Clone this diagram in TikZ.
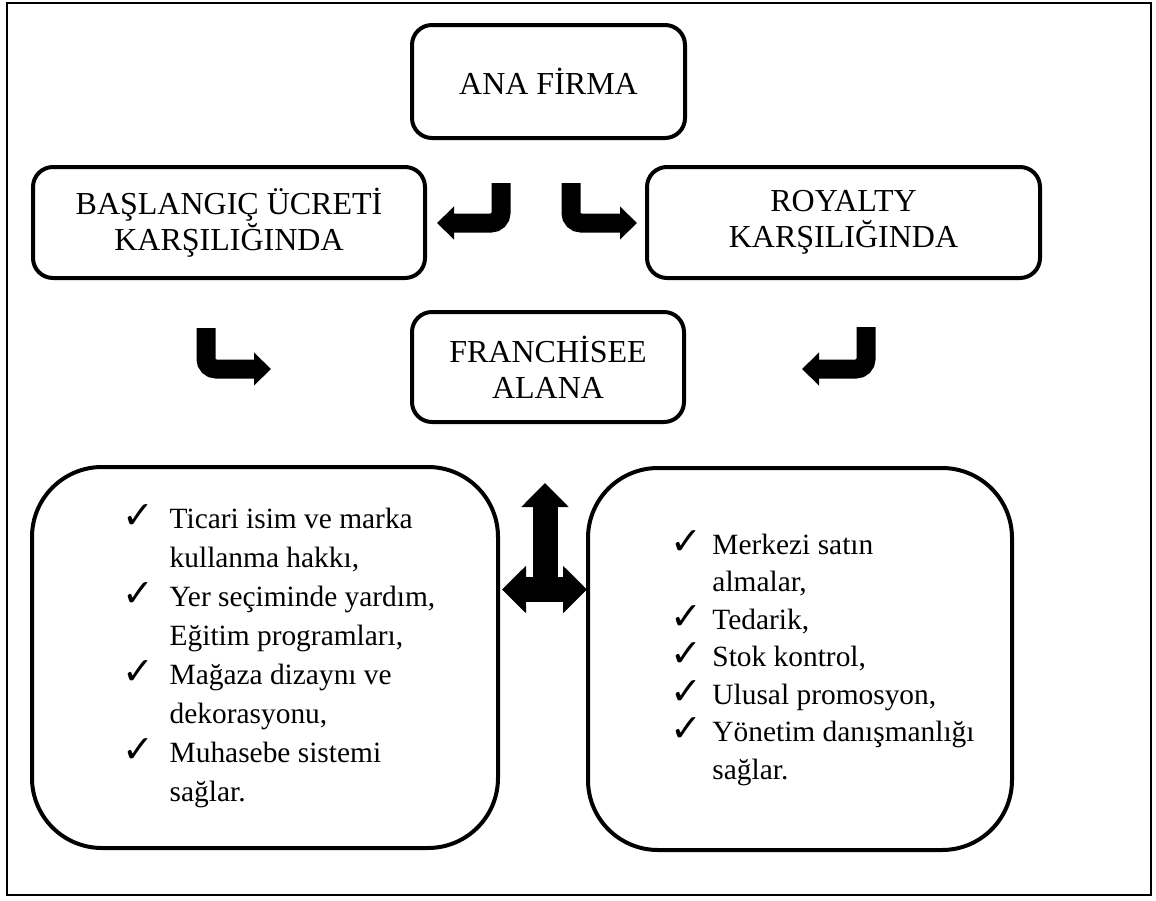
\documentclass[tikz,border=0pt]{standalone}
\usepackage{fontspec}
\setmainfont{Liberation Serif}
\newfontfamily\symfont{DejaVu Sans}
\usetikzlibrary{arrows.meta}
\newcommand{\chkglyph}{\raisebox{0pt}[0pt][0pt]{\symfont\fontsize{19}{19}\selectfont ✓}}
\newcommand{\chkA}{\makebox[23.5pt][l]{\chkglyph}}
\newcommand{\indA}{\hspace*{23.5pt}}
\newcommand{\chkB}{\makebox[21pt][l]{\chkglyph}}
\newcommand{\indB}{\hspace*{21pt}}
\tikzset{
  box/.style={draw, line width=2pt, rounded corners=10pt, align=center,
    font=\fontsize{16}{18}\selectfont, inner sep=0pt},
  bigbox/.style={draw, line width=2pt, rounded corners=35pt, inner sep=0pt,
    font=\fontsize{14.7}{19.5}\selectfont},
  bendarrow/.style={line width=9.5pt, rounded corners=5pt,
    -{Triangle[length=8.5pt,width=16pt]}},
  crossarrow/.style={line width=12.5pt, >={Triangle[length=12pt,width=23pt]}},
  frame/.style={line width=1pt}
}
\begin{document}
\begin{tikzpicture}[x=0.5pt,y=-0.5pt]
\useasboundingbox (0,0) rectangle (1156,900);
\draw[frame] (7,2.5) rectangle (1151,895);

\node[box, minimum width=136.5pt, minimum height=56.5pt] (ana) at (548.5,81.5) {ANA FİRMA};
\node[box, minimum width=196pt, minimum height=55.5pt] (bas) at (229,222.5) {BAŞLANGIÇ ÜCRETİ\\KARŞILIĞINDA};
\node[box, minimum width=196.5pt, minimum height=55.5pt] (roy) at (843.5,222.5) {ROYALTY\\KARŞILIĞINDA};
\node[box, minimum width=136pt, minimum height=55pt] (fra) at (548,367) {FRANCHİSEE\\ALANA};

\node[bigbox, minimum width=233pt, minimum height=190.5pt] (left) at (265,657.5) {\hspace*{14pt}\begin{tabular}{@{}l@{}}
\chkA Ticari isim ve marka\\
\indA kullanma hakkı,\\
\chkA Yer seçiminde yardım,\\
\indA Eğitim programları,\\
\chkA Mağaza dizaynı ve\\
\indA dekorasyonu,\\
\chkA Muhasebe sistemi\\
\indA sağlar.
\end{tabular}};

\node[bigbox, minimum width=212pt, minimum height=191pt, font=\fontsize{14.7}{18.75}\selectfont] (right) at (800,659) {\hspace*{22.5pt}\begin{tabular}{@{}l@{}}
\chkB Merkezi satın\\
\indB almalar,\\
\chkB Tedarik,\\
\chkB Stok kontrol,\\
\chkB Ulusal promosyon,\\
\chkB Yönetim danışmanlığı\\
\indB sağlar.
\end{tabular}};

% bent arrows
\coordinate (a1s) at (501,183); \coordinate (a1e) at (437,223);
\coordinate (a2s) at (571,183); \coordinate (a2e) at (637,223);
\coordinate (a3s) at (206,328); \coordinate (a3e) at (271,369);
\coordinate (a4s) at (866,327); \coordinate (a4e) at (802,369);
\draw[bendarrow] (a1s) |- (a1e);
\draw[bendarrow] (a2s) |- (a2e);
\draw[bendarrow] (a3s) |- (a3e);
\draw[bendarrow] (a4s) |- (a4e);

% cross arrow
\coordinate (cc) at (545,589.5);
\coordinate (ct) at (545,483);
\coordinate (cl) at (502,589.5);
\coordinate (cr) at (587,589.5);
\draw[crossarrow, ->] (cc) -- (ct);
\draw[crossarrow, <->] (cl) -- (cr);
\end{tikzpicture}
\end{document}
